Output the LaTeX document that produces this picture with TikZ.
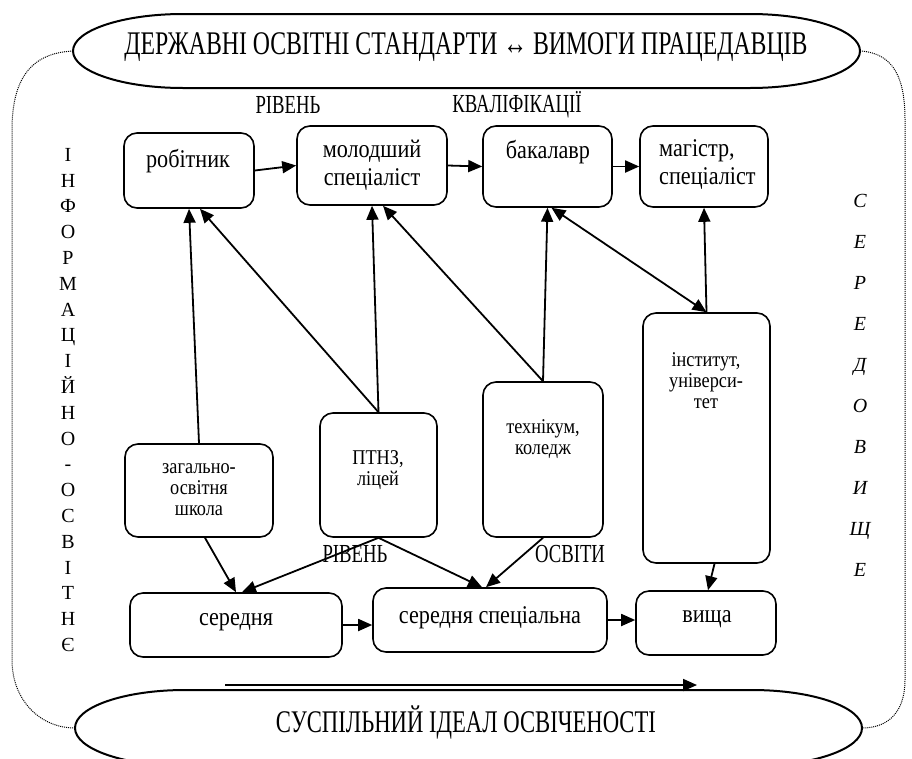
\documentclass[tikz,border=0pt]{standalone}
\usepackage{fontspec}
\setmainfont{Liberation Serif}
\newfontfamily\nrw{Liberation Serif}[FakeStretch=0.87]
\newfontfamily\cnd{Liberation Serif}[FakeStretch=0.72]
\usetikzlibrary{arrows.meta,calc}
\tikzset{
  box/.style={draw, rounded corners=13pt, line width=1.6pt, inner sep=0pt},
  txt/.style={inner sep=0pt, align=center, font=\nrw\fontsize{25.5}{28}\selectfont},
  stxt/.style={inner sep=0pt, align=center, font=\nrw\fontsize{21}{21}\selectfont},
  captxt/.style={inner sep=0pt, font=\cnd\fontsize{26}{26}\selectfont},
  bigcap/.style={inner sep=0pt, font=\cnd\fontsize{31.5}{32}\selectfont},
  arr/.style={-{Triangle[length=14pt,width=12pt]}, line width=1.8pt},
  darr/.style={{Triangle[length=14pt,width=12pt]}-{Triangle[length=14pt,width=12pt]}, line width=1.8pt},
  ell/.style={line width=2pt},
  frame/.style={densely dotted, line width=1pt}
}
\begin{document}
\begin{tikzpicture}[x=1pt,y=-1pt]
\useasboundingbox (0,0) rectangle (912,758);
\clip (0,0) rectangle (912,758);
% ellipses
\draw[ell] (183,14) -- (750,14) arc[start angle=-90,end angle=90,x radius=110,y radius=37] -- (183,88) arc[start angle=90,end angle=270,x radius=110,y radius=37] -- cycle;
\node[bigcap, font=\cnd\fontsize{33}{33}\selectfont] (top) at (466,47) {ДЕРЖАВНІ ОСВІТНІ СТАНДАРТИ ↔ ВИМОГИ ПРАЦЕДАВЦІВ};
\coordinate (topL) at (73,51);
\coordinate (topR) at (860,51);
\draw[ell] (185,690) -- (752,690) arc[start angle=-90,end angle=90,x radius=110,y radius=38] -- (185,766) arc[start angle=90,end angle=270,x radius=110,y radius=38] -- cycle;
\node[bigcap] (bot) at (466,722) {СУСПІЛЬНИЙ ІДЕАЛ ОСВІЧЕНОСТІ};
\coordinate (botL) at (75,728);
\coordinate (botR) at (862,728);
% dotted frame
\draw[frame] (topL) .. controls (30,53) and (12,80) .. (12,130) -- (12,660) .. controls (12,700) and (40,728) .. (botL);
\draw[frame] (topR) .. controls (895,53) and (905,80) .. (905,120) -- (905,680) .. controls (905,710) and (890,728) .. (botR);
% labels
\node[captxt] (lr1) at (288,105) {РІВЕНЬ};
\node[captxt] (lk1) at (517,105) {КВАЛІФІКАЦІЇ};
\node[captxt] (lr2) at (355,554) {РІВЕНЬ};
\node[captxt] (lo2) at (570,554) {ОСВІТИ};
% side texts
\node[inner sep=0pt, align=center, font=\fontsize{20}{25.8}\selectfont] (left) at (68,400) {І\\Н\\Ф\\О\\Р\\М\\А\\Ц\\І\\Й\\Н\\О\\-\\О\\С\\В\\І\\Т\\Н\\Є};
\node[inner sep=0pt, align=center, font=\fontsize{20}{41}\selectfont\itshape] (right) at (860,385) {С\\Е\\Р\\Е\\Д\\О\\В\\И\\Щ\\Е};
% boxes
\node[box, minimum width=130pt, minimum height=75pt] (rob) at (189,170.5) {};
\node[box, minimum width=150pt, minimum height=79pt] (mol) at (372,165.5) {};
\node[box, minimum width=129pt, minimum height=81pt] (bak) at (547.5,166.5) {};
\node[box, minimum width=128pt, minimum height=81pt] (mag) at (704,166.5) {};
\node[box, minimum width=127pt, minimum height=250pt] (inst) at (706.5,438) {};
\node[box, minimum width=120pt, minimum height=155pt] (tech) at (543,459.5) {};
\node[box, minimum width=117pt, minimum height=124pt] (ptnz) at (378.5,475) {};
\node[box, minimum width=148pt, minimum height=93pt] (zag) at (199,490.5) {};
\node[box, minimum width=212pt, minimum height=64pt] (ser) at (236,625) {};
\node[box, minimum width=234pt, minimum height=64pt] (serS) at (490,620) {};
\node[box, minimum width=140pt, minimum height=64pt] (vys) at (706,623) {};
% box texts
\node[txt, anchor=base] (robT) at (188,167) {робітник};
\node[txt] (molT) at (372,165) {молодший\\спеціаліст};
\node[txt, anchor=base] (bakT) at (548,158) {бакалавр};
\node[txt, align=left, anchor=west] (magT) at (659,165) {магістр,\\спеціаліст};
\node[stxt] (instT) at (706,381) {інститут,\\універси-\\тет};
\node[stxt] (techT) at (543,439) {технікум,\\коледж};
\node[stxt] (ptnzT) at (378,470) {ПТНЗ,\\ліцей};
\node[stxt] (zagT) at (199,490) {загально-\\освітня\\школа};
\node[txt] (serT) at (236,622) {середня};
\node[txt] (serST) at (490,618) {середня спеціальна};
\node[txt] (vysT) at (707,619) {вища};
% connectors top row
\draw[arr] (rob.east) -- (mol.west);
\draw[arr] (mol.east) -- (bak.west);
\draw[arr] (bak.east) -- (mag.west);
% upward
\draw[arr] (zag.north) -- (rob.south);
\draw[arr] (ptnz.north) -- ([xshift=11pt]rob.south);
\draw[arr] (ptnz.north) -- (mol.south);
\draw[arr] (tech.north) -- ([xshift=11pt]mol.south);
\draw[arr] (tech.north) -- (bak.south);
\draw[darr] ([xshift=4pt]bak.south) -- (inst.north);
\draw[arr] (inst.north) -- (mag.south);
% downward
\draw[arr] ([xshift=6pt]zag.south) -- (ser.north);
\draw[arr] (ptnz.south) -- ([xshift=6pt]ser.north);
\draw[arr] (ptnz.south) -- ([xshift=-8pt]serS.north);
\draw[arr] (tech.south) -- ([xshift=-4pt]serS.north);
\draw[arr] ([xshift=8pt]inst.south) -- ([xshift=2pt]vys.north);
% bottom row
\draw[arr] (ser.east) -- (ser.east -| serS.west);
\draw[arr] (serS.east) -- (serS.east -| vys.west);
% long arrow
\coordinate (la) at (225,685);
\coordinate (lb) at (697,685);
\draw[arr] (la) -- (lb);
\end{tikzpicture}
\end{document}
